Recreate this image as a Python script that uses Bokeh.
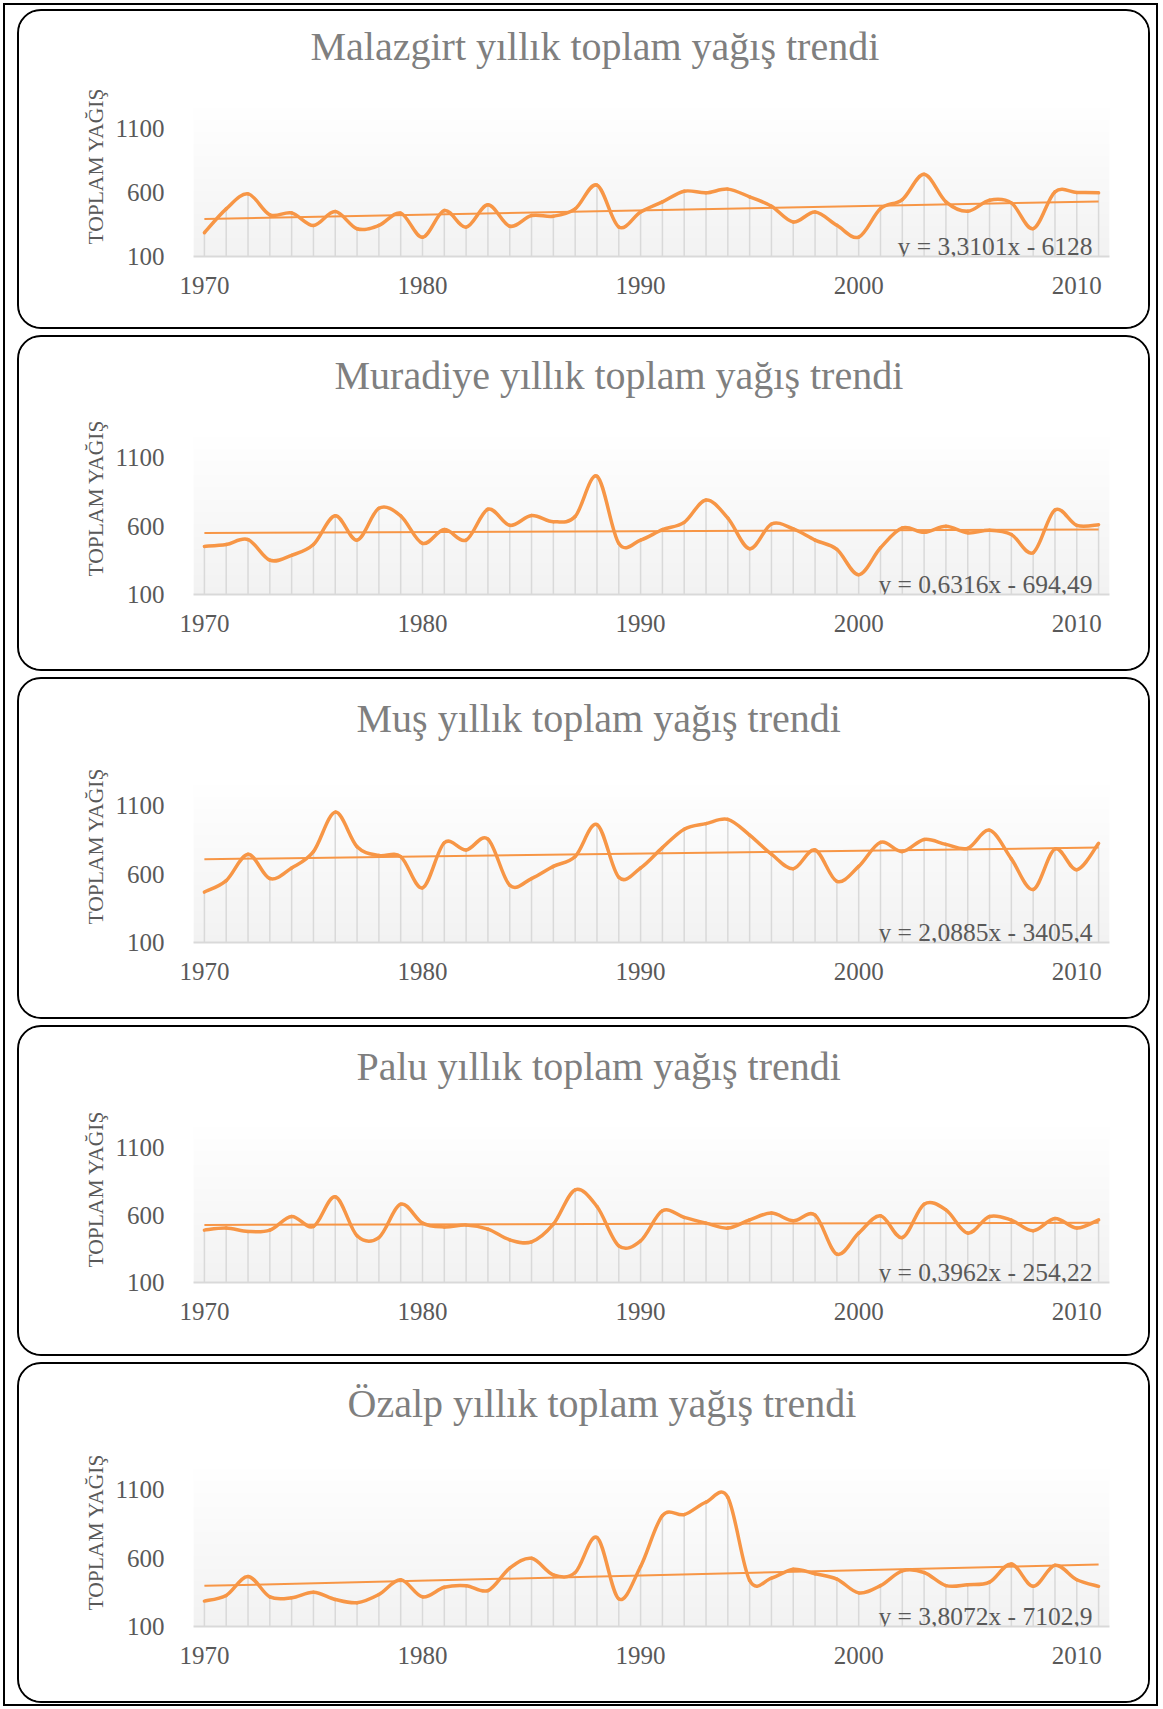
import numpy as np
from bokeh.plotting import figure
from bokeh.layouts import column
from bokeh.models import Label, Range1d, FixedTicker, Title
from bokeh.embed import file_html
from bokeh.resources import INLINE

years = list(range(1970, 2012))

stations = ["Malazgirt", "Muradiye", "Muş", "Palu", "Özalp"]
titles = [s + " yıllık toplam yağış trendi" for s in stations]

malazgirt = [285, 471, 588, 425, 440, 342, 450, 316, 342, 438, 250, 458, 329, 503,
             336, 419, 414, 471, 656, 330, 447, 526, 609, 596, 625, 565, 492, 369,
             447, 343, 251, 473, 544, 740, 526, 453, 539, 518, 317, 604, 599, 596]
muradiye = [452, 466, 502, 351, 387, 466, 676, 498, 731, 676, 474, 575, 498, 724,
            606, 678, 633, 671, 965, 474, 498, 575, 628, 792, 659, 435, 616, 580,
            498, 430, 245, 442, 587, 555, 599, 551, 570, 539, 406, 719, 606, 611]
mus = [469, 553, 746, 568, 645, 765, 1054, 801, 736, 729, 500, 830, 777, 857,
       519, 568, 657, 729, 963, 577, 645, 794, 929, 970, 1001, 886, 746, 640,
       777, 548, 657, 833, 765, 854, 818, 789, 922, 712, 488, 784, 633, 825]
palu = [488, 503, 478, 488, 589, 515, 735, 446, 433, 680, 540, 512, 525, 495,
        416, 401, 532, 787, 663, 372, 409, 631, 582, 540, 503, 564, 614, 557,
        599, 310, 466, 594, 433, 680, 638, 466, 589, 562, 483, 574, 503, 564]
ozalp = [286, 327, 466, 317, 310, 351, 298, 274, 334, 442, 317, 387, 399, 363,
         527, 599, 478, 495, 751, 302, 539, 912, 919, 1010, 1045, 437, 454, 519,
         486, 447, 346, 399, 507, 495, 399, 406, 425, 558, 394, 548, 442, 394]
series = [malazgirt, muradiye, mus, palu, ozalp]

slopes = [3.3101, 0.6316, 2.0885, 0.3962, 3.8072]
intercepts = [-6128, -694.49, -3405.4, -254.22, -7102.9]
equations = ["y = 3,3101x - 6128", "y = 0,6316x - 694,49", "y = 2,0885x - 3405,4",
             "y = 0,3962x - 254,22", "y = 3,8072x - 7102,9"]

x_ticks = [1970, 1980, 1990, 2000, 2010]
y_ticks = [100, 600, 1100]
y_label = "TOPLAM YAĞIŞ"

# layout (styles only)
ORANGE = "#F79646"
FONT = "Liberation Serif"
fig_w = 1133
fig_h = [320, 336, 342, 331, 341]
frame_top = [91, 93, 99, 93, 98]
frame_h = [154, 164, 164, 162, 164]
spacer_standoff = [21, 20, 25, 19, 24]
title_off = [117, 141, 163, 163, 154]
ylab_off = [12, 18, 18, 15, 16]


def smooth_segments(xs, ys):
    xs = np.asarray(xs, float)
    ys = np.asarray(ys, float)
    n = len(xs)
    px = np.concatenate([[xs[0]], xs, [xs[-1]]])
    py = np.concatenate([[ys[0]], ys, [ys[-1]]])
    x0 = px[1:n]; y0 = py[1:n]
    x1 = px[2:n + 1]; y1 = py[2:n + 1]
    cx0 = x0 + (px[2:n + 1] - px[0:n - 1]) / 6.0
    cy0 = y0 + (py[2:n + 1] - py[0:n - 1]) / 6.0
    cx1 = x1 - (px[3:n + 2] - px[1:n]) / 6.0
    cy1 = y1 - (py[3:n + 2] - py[1:n]) / 6.0
    return dict(x0=x0, y0=y0, x1=x1, y1=y1, cx0=cx0, cy0=cy0, cx1=cx1, cy1=cy1)


# vertical gradient for plot background
N = 120
grad = np.empty((N, 1), dtype=np.uint32)
view = grad.view(dtype=np.uint8).reshape((N, 1, 4))
for j in range(N):
    v = int(round(242 + (255 - 242) * j / (N - 1)))
    view[j, 0, 0] = v
    view[j, 0, 1] = v
    view[j, 0, 2] = v
    view[j, 0, 3] = 255

figs = []
for k in range(5):
    h = fig_h[k]
    top = frame_top[k]
    bottom = h - top - frame_h[k]
    p = figure(width=fig_w, height=h, output_backend="svg", toolbar_location=None,
               x_range=Range1d(1969.5, 2011.5), y_range=Range1d(100, 1300),
               min_border_left=174, min_border_right=43,
               min_border_top=top, min_border_bottom=bottom,
               styles={"border": "2px solid #000", "border-radius": "24px",
                       "overflow": "hidden"})
    p.background_fill_color = "white"
    p.border_fill_color = "white"
    p.outline_line_color = None
    p.grid.visible = False

    spacer = Title(text=" ", text_font_size="10px", standoff=spacer_standoff[k])
    p.add_layout(spacer, "above")
    ttl = Title(text=titles[k], text_font=FONT, text_font_size="40px",
                text_font_style="normal", text_color="#7f7f7f",
                align="left", offset=title_off[k], standoff=0)
    p.add_layout(ttl, "above")

    p.image_rgba(image=[grad], x=1969.5, y=100, dw=42, dh=1200)

    vals = series[k]
    p.segment(x0=years, y0=[100] * len(years), x1=years, y1=vals,
              line_color="#d9d9d9", line_width=1.5)

    tx = [years[0], years[-1]]
    ty = [slopes[k] * x + intercepts[k] for x in tx]
    p.line(tx, ty, line_color=ORANGE, line_width=2)

    seg = smooth_segments(years, vals)
    p.bezier(**seg, line_color=ORANGE, line_width=3.5, line_cap="round")

    lab = Label(x=2011, y=100, text=equations[k], text_align="right",
                text_baseline="bottom", x_offset=-6, y_offset=-4,
                text_font=FONT, text_font_size="25.5px", text_color="#595959")
    p.add_layout(lab)

    xa = p.xaxis[0]
    xa.ticker = FixedTicker(ticks=x_ticks)
    xa.major_tick_line_color = None
    xa.minor_tick_line_color = None
    xa.axis_line_color = "#d9d9d9"
    xa.axis_line_width = 2
    xa.major_label_text_font = FONT
    xa.major_label_text_font_size = "25px"
    xa.major_label_text_color = "#595959"
    xa.major_label_standoff = 14

    ya = p.yaxis[0]
    ya.ticker = FixedTicker(ticks=y_ticks)
    ya.major_tick_line_color = None
    ya.minor_tick_line_color = None
    ya.axis_line_color = None
    ya.major_label_text_font = FONT
    ya.major_label_text_font_size = "25px"
    ya.major_label_text_color = "#595959"
    ya.major_label_standoff = 23

    ylab = Title(text=y_label, text_font=FONT, text_font_size="21.5px",
                 text_font_style="normal", text_color="#595959",
                 align="left", offset=ylab_off[k], standoff=10)
    p.add_layout(ylab, "left")

    figs.append(p)

layout = column(*figs, spacing=6,
                styles={"border": "2px solid #000", "padding": "4px 6px 1px 12px",
                        "margin": "3px 0px 0px 3px", "background-color": "white"})

open("out.html", "w").write(file_html(layout, INLINE))
